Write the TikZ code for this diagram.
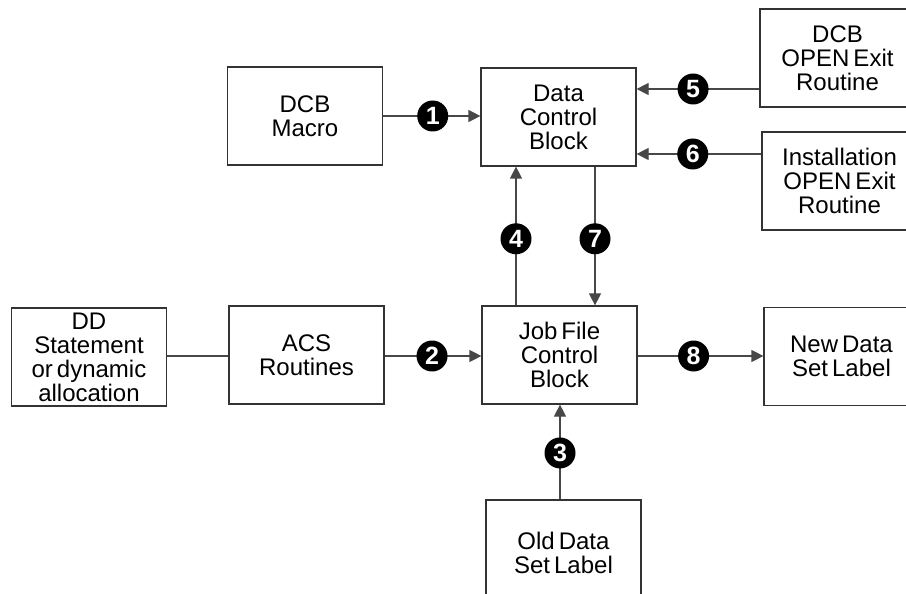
\documentclass[tikz,border=0pt]{standalone}
\usepackage{fontspec}
\setmainfont{Liberation Sans}
\usetikzlibrary{arrows.meta,calc}
\newcommand\myboxfont{\fontsize{24bp}{24bp}\selectfont\setlength{\spaceskip}{4bp plus 1bp minus 1bp}}
\tikzset{
  boxnode/.style={draw=black!80, line width=1.2bp, rectangle, minimum width=155bp,
    minimum height=98bp, inner sep=0pt, align=center, font=\myboxfont},
  conn/.style={draw=black!72, line width=1.2bp},
  arr/.style={conn, -{Triangle[length=12bp,width=12bp]}},
  num/.style={circle, fill=black, inner sep=0pt, minimum size=31bp,
    text=white, font=\fontsize{25bp}{25bp}\selectfont\bfseries},
}
\begin{document}
\begin{tikzpicture}[x=1bp,y=-1bp]
\useasboundingbox (0,0) rectangle (906,594);
\clip (0,0) rectangle (906,594);
% boxes
\node[boxnode] (macro) at (305,116) {DCB\\Macro};
\node[boxnode] (dcb) at (558.5,117) {Data\\Control\\Block};
\node[boxnode] (exit) at (837.5,58) {DCB\\OPEN Exit\\Routine};
\node[boxnode] (inst) at (839.5,181) {Installation\\OPEN Exit\\Routine};
\node[boxnode] (dd) at (89,357) {DD\\Statement\\or dynamic\\allocation};
\node[boxnode] (acs) at (306.5,355) {ACS\\Routines};
\node[boxnode] (jfcb) at (559.5,355) {Job File\\Control\\Block};
\node[boxnode] (new) at (841.5,356.5) {New Data\\Set Label};
\node[boxnode] (old) at (563.5,549) {};
\node[font=\myboxfont, align=center, inner sep=0pt] (oldtxt) at (563.5,553) {Old Data\\Set Label};
% reference coordinates for connector levels
\coordinate (y1) at (0,116);
\coordinate (y5) at (0,89);
\coordinate (y6) at (0,154);
\coordinate (y2) at (0,356);
\coordinate (x4) at (516,0);
\coordinate (x7) at (595,0);
\coordinate (x3) at (560,0);
% connectors
\draw[arr] (macro.east |- y1) -- node[num, pos=0.51]{1} (dcb.west |- y1);
\draw[arr] (exit.west |- y5) -- node[num, pos=0.54]{5} (dcb.east |- y5);
\draw[arr] (inst.west |- y6) -- node[num, pos=0.55]{6} (dcb.east |- y6);
\draw[arr] (jfcb.north -| x4) -- node[num, pos=0.48]{4} (dcb.south -| x4);
\draw[arr] (dcb.south -| x7) -- node[num, pos=0.52]{7} (jfcb.north -| x7);
\draw[conn] (dd.east |- y2) -- (acs.west |- y2);
\draw[arr] (acs.east |- y2) -- node[num, pos=0.49]{2} (jfcb.west |- y2);
\draw[arr] (jfcb.east |- y2) -- node[num, pos=0.445]{8} (new.west |- y2);
\draw[arr] (old.north -| x3) -- node[num, pos=0.49]{3} (jfcb.south -| x3);
\end{tikzpicture}
\end{document}
